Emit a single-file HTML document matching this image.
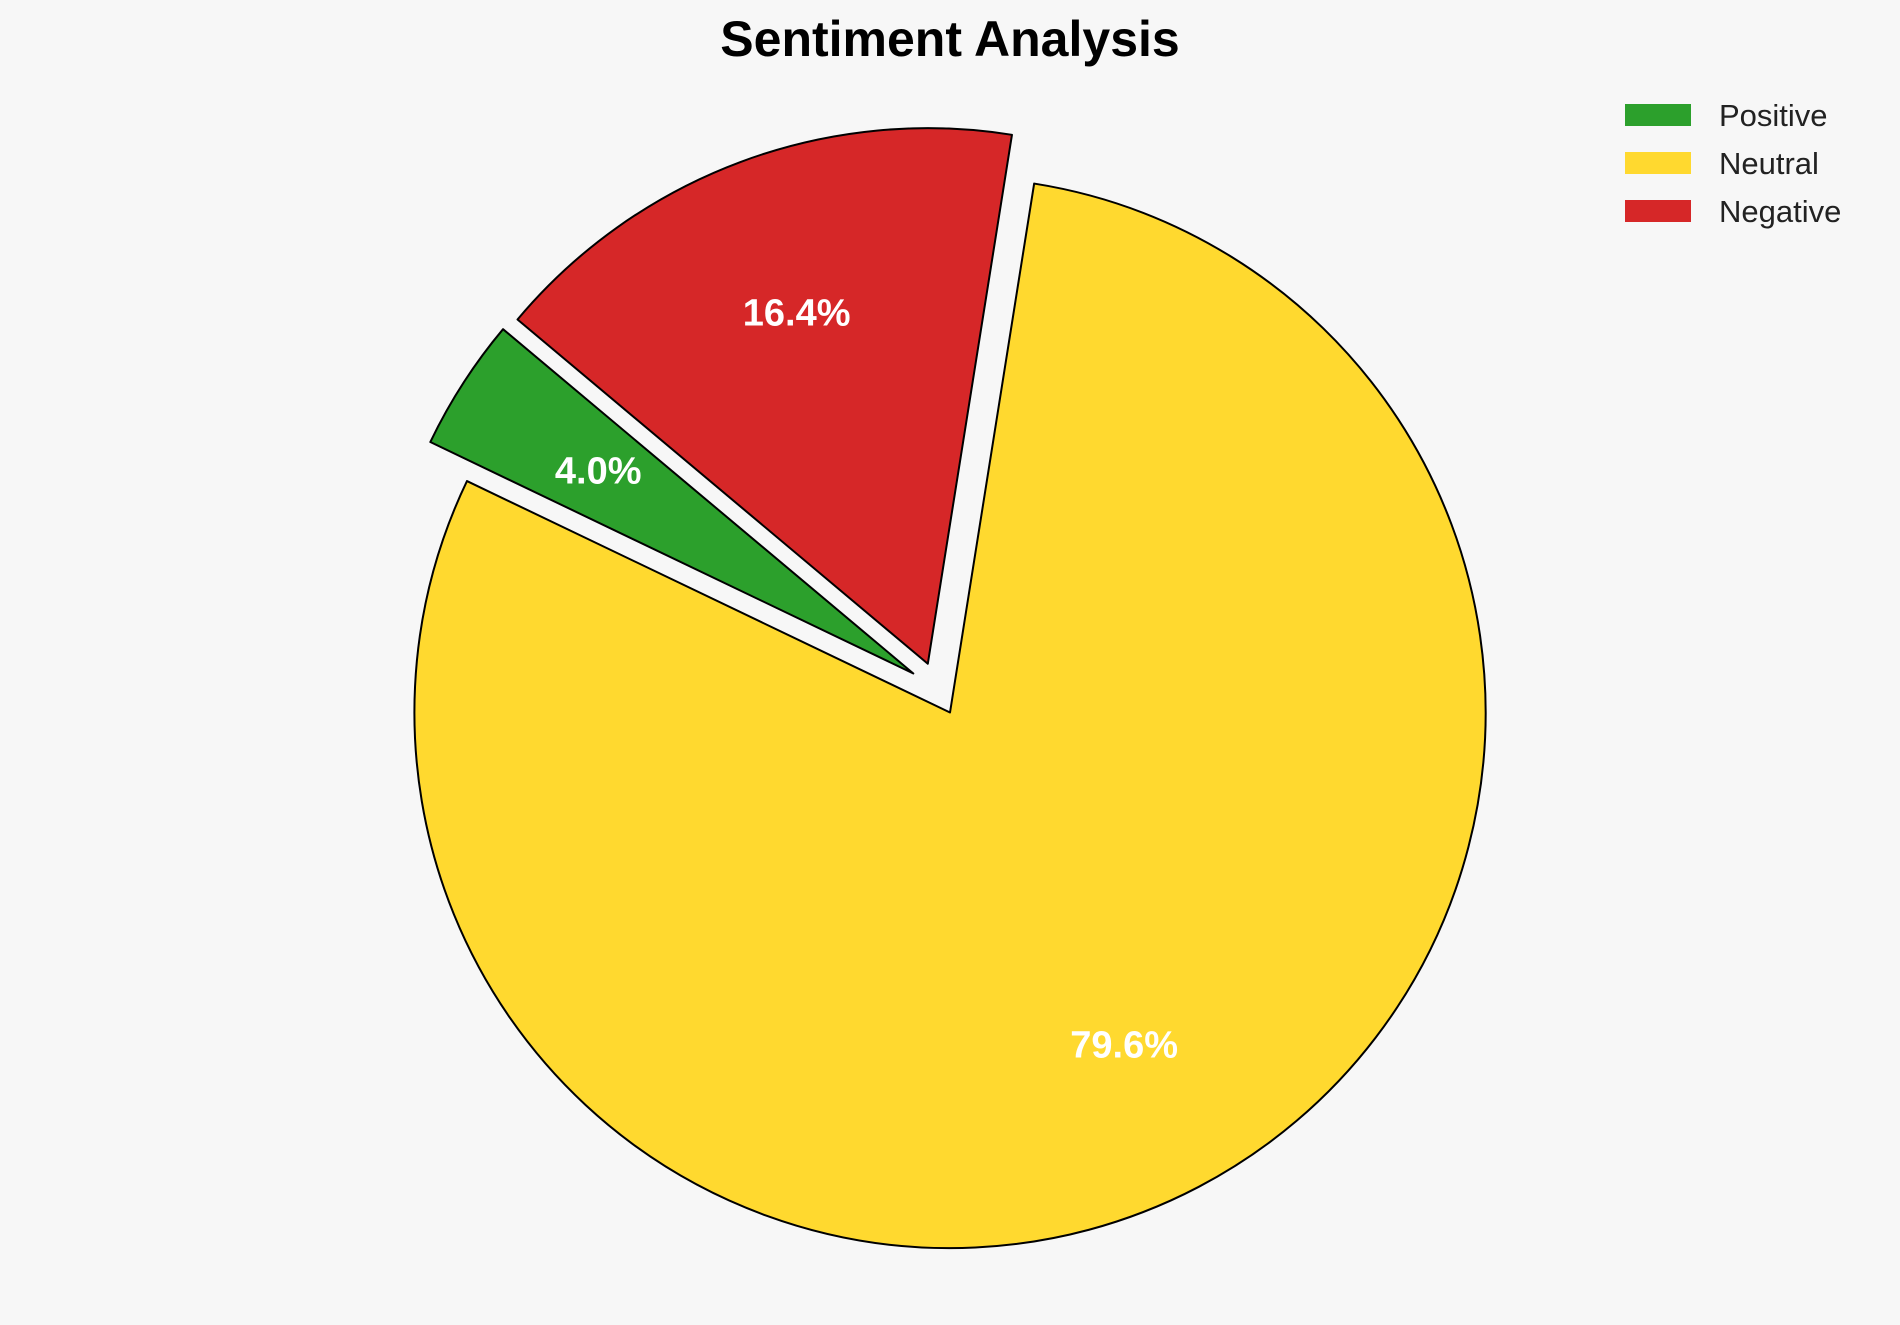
<!DOCTYPE html>
<html><head><meta charset="utf-8"><style>
body{margin:0;background:#f7f7f7;}
svg{display:block;font-family:"Liberation Sans",Arial,sans-serif;}
</style></head><body>
<svg id="chart" width="1900" height="1325" viewBox="0 0 1900 1325">
<rect width="1900" height="1325" fill="#f7f7f7"/>
<text x="950" y="56" text-anchor="middle" font-size="50" font-weight="bold" fill="#000">Sentiment Analysis</text>
<g id="pie"></g>
<g id="legend"></g>
</svg>
<script>
const categories = ["Positive", "Neutral", "Negative"];
const values = [4.0, 79.6, 16.4];
const colors = ["#2ca02c", "#ffd92f", "#d62728"];
const explode = [0.1, 0, 0.1];
const explodeDirShift = [-14, 0, 4];
const startAngle = 140;
const cx = 950, cy = 712.5, R = 535.6, pctDist = 0.7;
const NS = "http://www.w3.org/2000/svg";
const pie = document.getElementById("pie");
const legend = document.getElementById("legend");
const total = values.reduce((a,b)=>a+b,0);
let a0 = startAngle;
values.forEach((v,i)=>{
  const sweep = v/total*360;
  const a1 = a0 + sweep;
  const mid = (a0+a1)/2*Math.PI/180;
  const ed = ((a0+a1)/2 + explodeDirShift[i])*Math.PI/180;
  const ox = cx + explode[i]*R*Math.cos(ed), oy = cy - explode[i]*R*Math.sin(ed);
  const p0x = ox + R*Math.cos(a0*Math.PI/180), p0y = oy - R*Math.sin(a0*Math.PI/180);
  const p1x = ox + R*Math.cos(a1*Math.PI/180), p1y = oy - R*Math.sin(a1*Math.PI/180);
  const large = sweep > 180 ? 1 : 0;
  const path = document.createElementNS(NS,"path");
  path.setAttribute("d",`M${ox},${oy} L${p0x},${p0y} A${R},${R} 0 ${large} 0 ${p1x},${p1y} Z`);
  path.setAttribute("fill",colors[i]);
  path.setAttribute("stroke","#000");
  path.setAttribute("stroke-width","2");
  path.setAttribute("stroke-linejoin","round");
  
  
  pie.appendChild(path);
  const t = document.createElementNS(NS,"text");
  t.setAttribute("x", ox + pctDist*R*Math.cos(mid));
  t.setAttribute("y", oy - pctDist*R*Math.sin(mid) + 13);
  t.setAttribute("text-anchor","middle");
  t.setAttribute("font-size","38");
  t.setAttribute("font-weight","bold");
  t.setAttribute("fill","#fff");
  t.textContent = v.toFixed(1) + "%";
  
  
  pie.appendChild(t);
  a0 = a1;
});
categories.forEach((c,i)=>{
  const y = 115 + i*48;
  const r = document.createElementNS(NS,"rect");
  r.setAttribute("x",1625); r.setAttribute("y",y-11);
  r.setAttribute("width",66); r.setAttribute("height",22);
  r.setAttribute("fill",colors[i]);
  
  
  legend.appendChild(r);
  const t = document.createElementNS(NS,"text");
  t.setAttribute("x",1719); t.setAttribute("y",y+11);
  t.setAttribute("font-size","31"); t.setAttribute("fill","#222");
  t.textContent = c;
  
  
  legend.appendChild(t);
});
</script>
</body></html>
